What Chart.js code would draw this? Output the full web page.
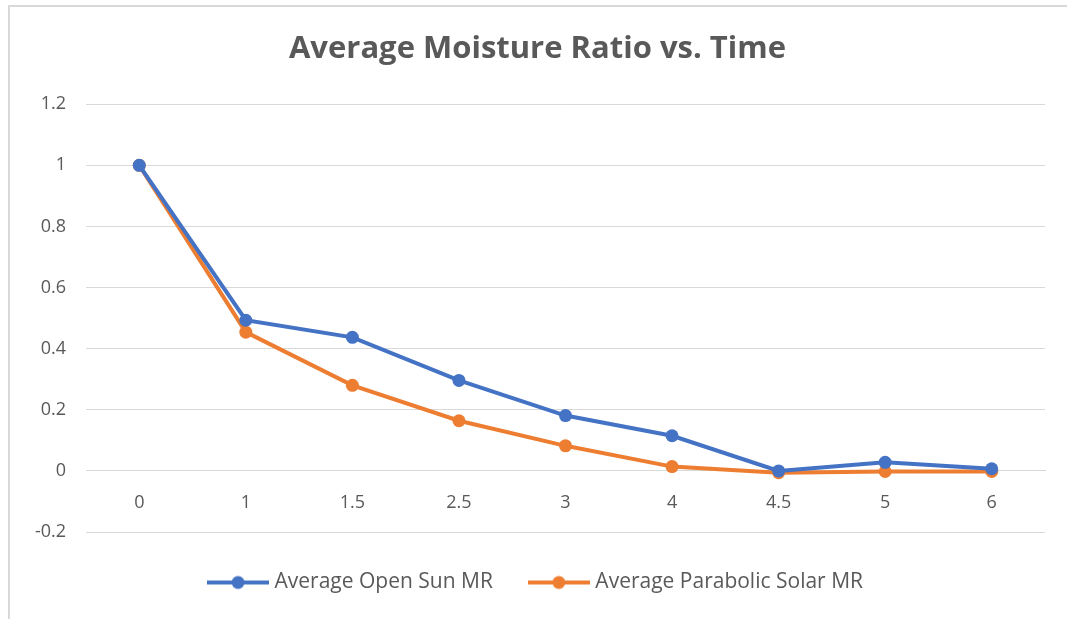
<!DOCTYPE html>
<html>
<head>
<meta charset="utf-8">
<script src="https://cdn.jsdelivr.net/npm/chart.js@4/dist/chart.umd.min.js"></script>
<style>
  html, body { margin: 0; padding: 0; background: #ffffff; }
  #wrap { position: relative; width: 1067px; height: 619px; }
  #frame { position: absolute; left: 8px; top: 5px; width: 1070px; height: 620px;
           border-left: 2px solid #d9d9d9; border-top: 2px solid #d9d9d9; box-sizing: border-box; }
  canvas { position: absolute; left: 0; top: 0; }
</style>
</head>
<body>
<div id="wrap">
  <div id="frame"></div>
  <canvas id="c" width="1067" height="619"></canvas>
</div>
<script>
const categories = ['0', '1', '1.5', '2.5', '3', '4', '4.5', '5', '6'];
const openSunMR = [1.0, 0.493, 0.437, 0.296, 0.181, 0.115, 0.0, 0.028, 0.007];
const parabolicSolarMR = [1.0, 0.454, 0.280, 0.164, 0.082, 0.014, -0.006, -0.002, -0.002];
const seriesNames = ['Average Open Sun MR', 'Average Parabolic Solar MR'];
const chartTitle = 'Average Moisture Ratio vs. Time';

const BLUE = '#4472C4';
const ORANGE = '#ED7D31';
const TEXT = '#595959';
const GRID = '#d9d9d9';
const FONT = "'Open Sans', 'DejaVu Sans', sans-serif";

function legendIcon(color) {
  const cv = document.createElement('canvas');
  cv.width = 62; cv.height = 16;
  const g = cv.getContext('2d');
  g.strokeStyle = color; g.lineWidth = 4;
  g.beginPath(); g.moveTo(0, 8); g.lineTo(62, 8); g.stroke();
  g.fillStyle = color;
  g.beginPath(); g.arc(31, 8, 6.5, 0, Math.PI * 2); g.fill();
  return cv;
}
const icons = [legendIcon(BLUE), legendIcon(ORANGE)];

new Chart(document.getElementById('c'), {
  type: 'line',
  data: {
    labels: categories,
    datasets: [
      { label: seriesNames[0], data: openSunMR, borderColor: BLUE, backgroundColor: BLUE,
        borderWidth: 4, pointRadius: 6.5, pointHoverRadius: 6.5, pointBorderWidth: 0, tension: 0 },
      { label: seriesNames[1], data: parabolicSolarMR, borderColor: ORANGE, backgroundColor: ORANGE,
        borderWidth: 4, pointRadius: 6.5, pointHoverRadius: 6.5, pointBorderWidth: 0, tension: 0 }
    ]
  },
  options: {
    responsive: false,
    animation: false,
    devicePixelRatio: 1,
    layout: { padding: { top: 20, right: 22, bottom: 16, left: 30 } },
    plugins: {
      tooltip: { enabled: false },
      title: {
        display: true, text: chartTitle, color: TEXT,
        font: { family: FONT, size: 31, weight: 'bold' },
        padding: { top: 11, bottom: 36 }
      },
      legend: {
        position: 'bottom',
        labels: {
          usePointStyle: true,
          pointStyleWidth: 52,
          boxHeight: 14,
          color: TEXT,
          font: { family: FONT, size: 21 },
          padding: 40,
          generateLabels(chart) {
            return chart.data.datasets.map((ds, i) => ({
              text: ds.label, fillStyle: ds.borderColor, strokeStyle: ds.borderColor,
              lineWidth: 0, pointStyle: icons[i], datasetIndex: i, hidden: false, fontColor: TEXT
            }));
          }
        }
      }
    },
    scales: {
      x: {
        position: { y: 0 },
        offset: true,
        grid: { display: false, drawTicks: false },
        border: { display: true, color: GRID, width: 1 },
        ticks: { color: TEXT, font: { family: FONT, size: 18 }, padding: 21, maxRotation: 0 }
      },
      y: {
        min: -0.2, max: 1.2,
        afterFit(scale) { scale.width = 56; },
        grid: { color: GRID, lineWidth: 1, drawTicks: false },
        border: { display: false },
        ticks: { stepSize: 0.2, color: TEXT, font: { family: FONT, size: 18 }, padding: 20,
                 callback: v => String(Math.round(v * 10) / 10) }
      }
    }
  }
});
</script>
</body>
</html>
